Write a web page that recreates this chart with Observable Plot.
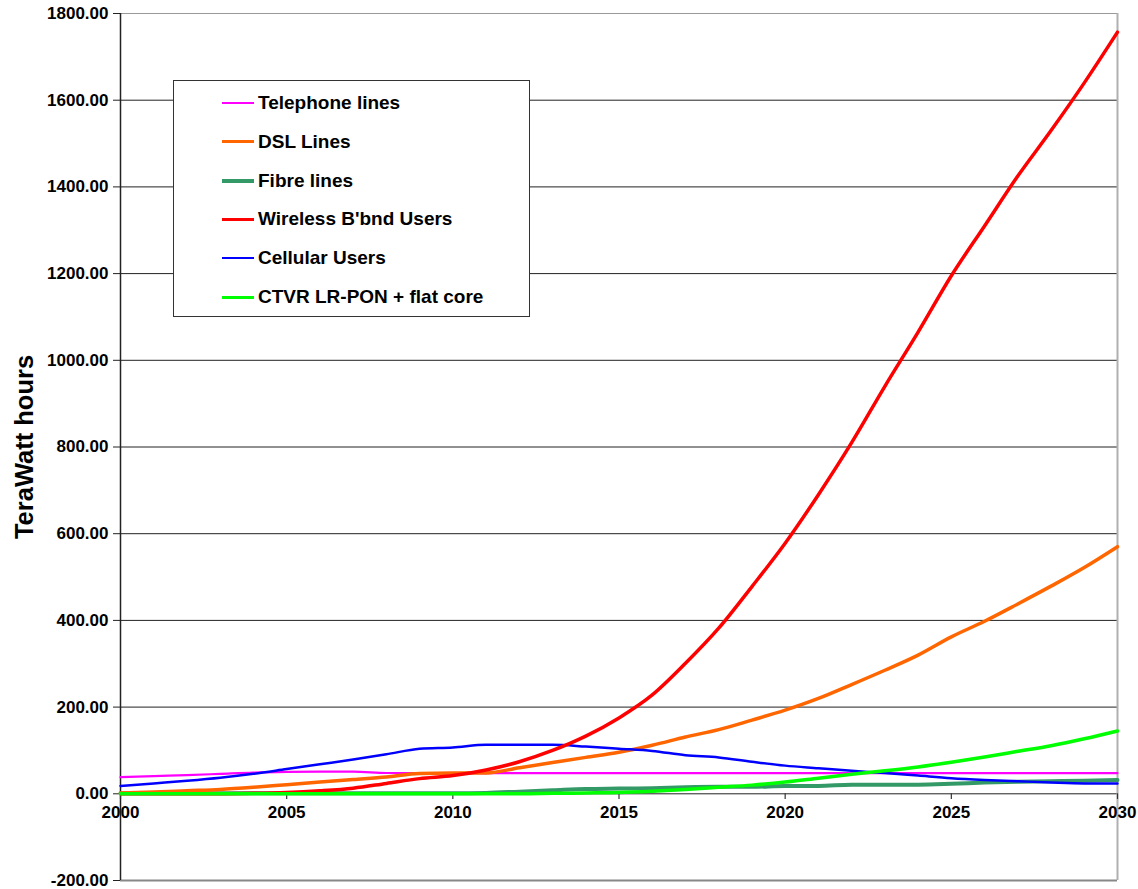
<!DOCTYPE html>
<html><head><meta charset="utf-8">
<script src="https://cdn.jsdelivr.net/npm/d3@7"></script>
<script src="https://cdn.jsdelivr.net/npm/@observablehq/plot@0.6"></script>
<style>
body{margin:0;background:#fff;font-family:"Liberation Sans",Arial,sans-serif;}
#wrap{position:relative;width:1138px;height:889px;}
#legend{position:absolute;left:173px;top:80px;width:357px;height:237px;border:1px solid #333;background:#fff;box-sizing:border-box;}
.item{position:absolute;left:48px;height:24px;display:flex;align-items:center;font-weight:bold;font-size:19px;color:#000;white-space:nowrap;}
.sw{width:32px;margin-right:4px;}
</style></head><body><div id="wrap"></div>
<script>
const years = [2000,2001,2002,2003,2004,2005,2006,2007,2008,2009,2010,2011,2012,2013,2014,2015,2016,2017,2018,2019,2020,2021,2022,2023,2024,2025,2026,2027,2028,2029,2030];
const telephone = [38.5,41,43,46,49,50.5,51,51,48,47.5,47.5,47.5,47.5,47.5,47.5,47.5,47.5,47.5,47.5,47.5,47.5,47.5,47.5,47.5,47.5,47.5,47.5,47.5,47.5,47.5,47.5];
const dsl = [2,4,7,10,15,21,27,33,39,47,48,48,60,72,84,96,112,131,148,170,193,220,252,285,320,362,398,438,479,522,570];
const fibre = [1,1,1,1,1,1,1,1,1,1,1,2,5,8,11,12,13,15,16,16,18,18,21,21,21,23,26,28,29,30,32];
const wireless = [0,0,0,0,1,3,7,13,24,35,42,55,74,100,133,175,228,301,382,478,578,690,810,940,1065,1195,1310,1425,1530,1640,1757];
const cellular = [18,24,30,37,46,57,68,79,91,104,107,113,113,113,109,104,99,89,84,74,65,59,53,48,42,36,32,29,26,24,24];
const ctvr = [0,0,0,0,0,0,0,0,0,0,0,0,0,1,2,3,6,10,15,20,27,36,45,53,62,73,85,98,111,127,145];

const seriesNames = ["Telephone lines","DSL Lines","Fibre lines","Wireless B'bnd Users","Cellular Users","CTVR LR-PON + flat core"];
const seriesValues = [telephone, dsl, fibre, wireless, cellular, ctvr];
const seriesColors = ["#ff00ff","#ff6600","#339966","#ff0000","#0000ff","#00ff00"];
const seriesWidths = [2.2,3.5,4,3.5,2.5,3.5];
const drawOrder = [0,2,1,4,3,5];

const yTicks = [-200,0,200,400,600,800,1000,1200,1400,1600,1800];
const gridTicks = [0,200,400,600,800,1000,1200,1400,1600];
const xTicks = [2000,2005,2010,2015,2020,2025,2030];
const yTitle = "TeraWatt hours";

const table = [];
seriesNames.forEach((name, s) => years.forEach((yr, i) => table.push({series: name, year: yr, value: seriesValues[s][i]})));

const lineMarks = drawOrder.map(s => Plot.line(table.filter(d => d.series === seriesNames[s]), {
  x: "year", y: "value", stroke: seriesColors[s], strokeWidth: seriesWidths[s], curve: "monotone-x"
}));

const chart = Plot.plot({
  width: 1138, height: 889,
  marginLeft: 120, marginRight: 21, marginTop: 13, marginBottom: 9,
  x: {domain: [2000, 2030], axis: null},
  y: {domain: [-200, 1800], axis: null},
  style: {fontFamily: "'Liberation Sans', Arial, sans-serif", background: "white", color: "black"},
  marks: [
    Plot.ruleY(gridTicks, {stroke: "#222", strokeWidth: 1}),
    Plot.ruleY([1800], {stroke: "#999", strokeWidth: 1.2}),
    Plot.ruleY([-200], {stroke: "#888", strokeWidth: 1.8}),
    Plot.ruleX([2030], {stroke: "#b0b0b0", strokeWidth: 2}),
    Plot.axisY({ticks: yTicks, tickFormat: d => d.toFixed(2), tickSize: 7, tickPadding: 5, fontSize: 17, fontWeight: "bold", label: null, stroke: "#222"}),
    Plot.ruleX([2000], {stroke: "#222", strokeWidth: 1.5}),
    Plot.ruleX(xTicks, {x: d => d, y1: 0, y2: -13, stroke: "#333", strokeWidth: 1.2}),
    ...lineMarks,
    Plot.text(xTicks, {x: d => d, y: 0, dy: 19, text: d => String(d), fontSize: 17, fontWeight: "bold", fill: "black"}),
    Plot.text([yTitle], {frameAnchor: "left", textAnchor: "middle", text: d => d, rotate: -90, dx: -96, fontSize: 25.5, fontWeight: "bold", fill: "black"})
  ]
});

const wrap = document.getElementById("wrap");
wrap.appendChild(chart);
const legend = document.createElement("div");
legend.id = "legend";
seriesNames.forEach((name, s) => {
  const item = document.createElement("div");
  item.className = "item";
  item.style.top = (22 + s * 38.8 - 12) + "px";
  const sw = document.createElement("span");
  sw.className = "sw";
  sw.style.height = Math.max(2, Math.round(seriesWidths[s] * 0.9)) + "px";
  sw.style.background = seriesColors[s];
  const tx = document.createElement("span");
  tx.textContent = name;
  item.appendChild(sw); item.appendChild(tx);
  legend.appendChild(item);
});
wrap.appendChild(legend);
</script></body></html>
